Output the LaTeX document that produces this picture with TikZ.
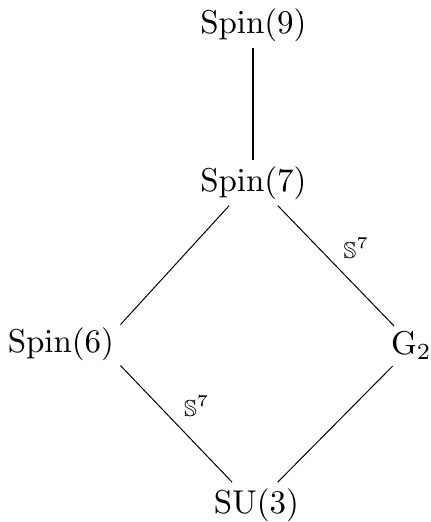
\documentclass[tikz,border=0pt]{standalone}
\usepackage{amssymb,amsmath}
\usepackage{tikz}

\begin{document}
\begin{tikzpicture}[group/.style={inner sep=1.7pt}, incl/.style={line width=0.3pt},
  fib/.style={font=\scriptsize, inner sep=1pt, midway, above right=1.2pt}]

  \useasboundingbox (0,0) rectangle (4.59,-5.56);

  % the groups
  \node[group] (spin9) at (2.700,-0.266) {$\mathrm{Spin}(9)$};
  \node[group] (spin7) at (2.700,-1.949) {$\mathrm{Spin}(7)$};
  \node[group] (spin6) at (0.650,-3.663) {$\mathrm{Spin}(6)$};
  \node[group] (g2)    at (4.382,-3.685) {$\mathrm{G}_2$};
  \node[group] (su3)   at (2.732,-5.378) {$\mathrm{SU}(3)$};

  % inclusions
  \draw[line width=0.6pt] (spin9.south) -- (spin7.north);
  \draw[incl] (spin7.223) -- (spin6.18);
  \draw[incl] (spin7.317) -- (g2.131) node[fib] {$\mathbb{S}^7$};
  \draw[incl] (spin6.-20) -- (su3.137) node[fib] {$\mathbb{S}^7$};
  \draw[incl] (g2.227) -- (su3.47);

\end{tikzpicture}
\end{document}
